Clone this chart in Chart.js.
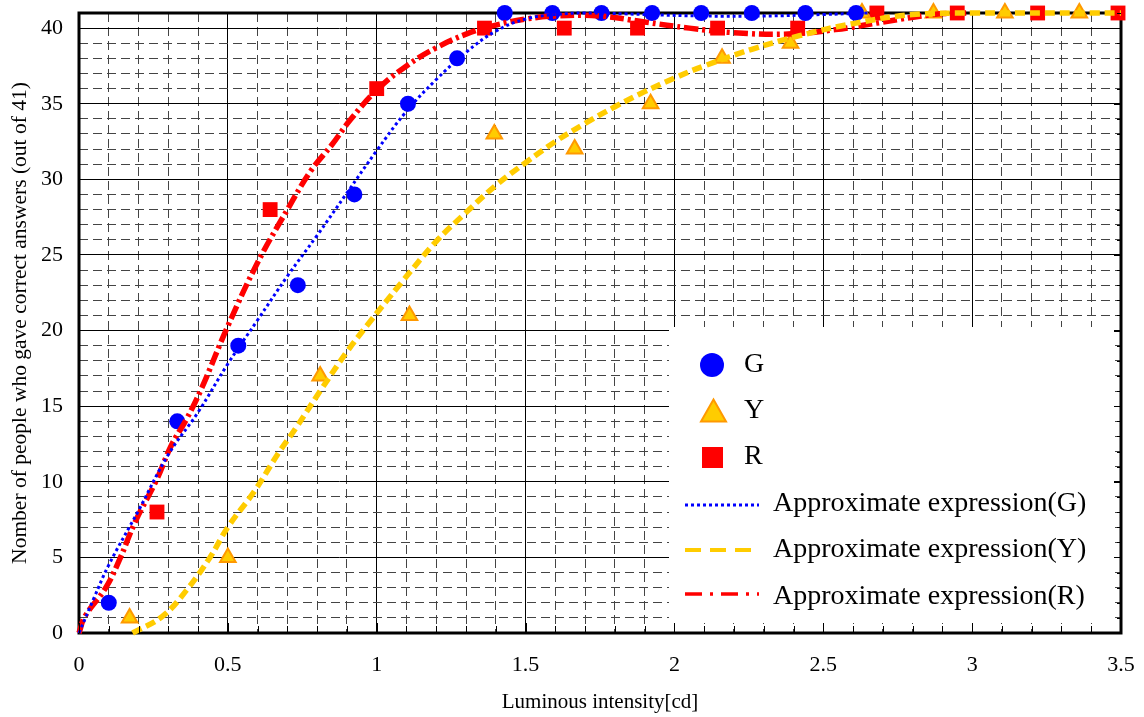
<!DOCTYPE html>
<html><head><meta charset="utf-8">
<script src="https://cdn.jsdelivr.net/npm/chart.js@4.4.0/dist/chart.umd.min.js"></script>
<style>html,body{margin:0;padding:0;background:#fff}#wrap{width:1144px;height:717px}</style>
</head><body><div id="wrap"><canvas id="c" width="1144" height="717"></canvas></div>
<script>
// Measured points
const gX = [0.10,0.33,0.535,0.735,0.925,1.105,1.27,1.43,1.59,1.755,1.925,2.09,2.26,2.44,2.61];
const gY = [2,14,19,23,29,35,38,41,41,41,41,41,41,41,41];
const yX = [0.17,0.50,0.81,1.11,1.395,1.665,1.92,2.16,2.39,2.63,2.87,3.11,3.36];
const yY = [1,5,17,21,33,32,35,38,39,41,41,41,41];
const rX = [0.262,0.642,1.0,1.362,1.63,1.876,2.145,2.414,2.68,2.95,3.22,3.49];
const rY = [8,28,36,40,40,40,40,40,41,41,41,41];
// Approximate expression curves
const fitGX = [0,0.05,0.1,0.2,0.3,0.4,0.5,0.6,0.7,0.8,0.9,1.0,1.1,1.2,1.3,1.4,1.5,1.6,1.7,1.9,2.1,2.3,2.5,2.65];
const fitGY = [0,2.3,4.5,8.1,11.8,14.6,17.8,20.7,23.6,26.3,29.1,31.9,34.5,36.6,38.4,39.8,40.6,40.9,41.0,40.9,40.8,40.8,40.9,41];
const fitYX = [0.18,0.28,0.36,0.44,0.5,0.59,0.67,0.73,0.81,0.9,0.97,1.08,1.2,1.3,1.4,1.5,1.6,1.7,1.8,1.9,2.0,2.1,2.26,2.42,2.6,2.8,3.0,3.5];
const fitYY = [0,1.1,2.8,5.0,7.0,9.4,11.9,13.6,16.0,18.6,20.4,23.1,25.9,27.8,29.6,31.1,32.5,33.7,34.8,35.8,36.7,37.5,38.6,39.5,40.3,40.9,41,41];
const fitRX = [0,0.02,0.09,0.135,0.19,0.26,0.31,0.36,0.41,0.5,0.6,0.7,0.78,0.85,0.91,1.0,1.1,1.2,1.3,1.4,1.5,1.6,1.75,1.9,2.05,2.2,2.37,2.54,2.7,2.87,2.98];
const fitRY = [0,1.1,3.0,4.8,7.4,10.1,12.4,14.1,16.1,20.3,24.5,28.0,30.6,32.3,33.9,35.9,37.5,38.7,39.6,40.2,40.6,40.8,40.8,40.4,40.0,39.7,39.6,39.9,40.4,40.9,41];
// Axis ticks
const xTickValues = [0,0.5,1,1.5,2,2.5,3,3.5];
const xTickLabels = ['0','0.5','1','1.5','2','2.5','3','3.5'];
const yTickValues = [0,5,10,15,20,25,30,35,40];
const yTickLabels = ['0','5','10','15','20','25','30','35','40'];
const xMinorStep = 0.1, yMinorStep = 1;
const xTitle = 'Luminous intensity[cd]';
const yTitle = 'Nomber of people who gave correct answers (out of 41)';
const legendLabels = ['G','Y','R','Approximate expression(G)','Approximate expression(Y)','Approximate expression(R)'];

const FONT = '"Liberation Serif", "Times New Roman", serif';
const pts = (xs, ys) => xs.map((x, i) => ({x, y: ys[i]}));
const isMajor = (v, list) => list.some(t => Math.abs(t - v) < 1e-6);

const decor = {
  id: 'decor',
  beforeDatasetsDraw(chart) {
    const {ctx, chartArea: a} = chart;
    ctx.save();
    ctx.strokeStyle = '#000'; ctx.lineWidth = 3;
    ctx.strokeRect(a.left, a.top, a.right - a.left, a.bottom - a.top);
    ctx.restore();
  },
  afterDatasetsDraw(chart) {
    const {ctx, chartArea: a, scales} = chart;
    ctx.save();
    // legend background
    ctx.fillStyle = '#fff';
    ctx.fillRect(669, 327, 1114 - 669, 623 - 327);
    // inward ticks
    ctx.strokeStyle = '#000'; ctx.lineWidth = 1;
    scales.x.ticks.forEach(t => {
      const px = Math.round(scales.x.getPixelForValue(t.value)) + 0.5;
      const len = isMajor(t.value, xTickValues) ? 10 : 7;
      ctx.beginPath(); ctx.moveTo(px, a.bottom); ctx.lineTo(px, a.bottom - len); ctx.stroke();
    });
    scales.y.ticks.forEach(t => {
      const py = Math.round(scales.y.getPixelForValue(t.value)) + 0.5;
      const len = isMajor(t.value, yTickValues) ? 7 : 4;
      ctx.beginPath(); ctx.moveTo(a.right, py); ctx.lineTo(a.right - len, py); ctx.stroke();
    });
    // legend markers
    ctx.fillStyle = '#0000ff';
    ctx.beginPath(); ctx.arc(712, 365, 12, 0, Math.PI * 2); ctx.fill();
    ctx.fillStyle = '#ffcc00'; ctx.strokeStyle = '#ff9900'; ctx.lineWidth = 2;
    ctx.beginPath(); ctx.moveTo(713.5, 399.5); ctx.lineTo(726, 421.5); ctx.lineTo(701, 421.5); ctx.closePath(); ctx.fill(); ctx.stroke();
    ctx.fillStyle = '#ff0000';
    ctx.fillRect(702, 447, 21, 21);
    // legend lines
    const line = (y, color, w, dash) => {
      ctx.beginPath(); ctx.strokeStyle = color; ctx.lineWidth = w; ctx.setLineDash(dash);
      ctx.moveTo(685, y); ctx.lineTo(759, y); ctx.stroke();
    };
    line(505, '#0000ff', 3, [3, 3]);
    line(550, '#ffcc00', 4, [16, 9]);
    line(594, '#ff0000', 3.5, [17, 8, 3, 8]);
    ctx.setLineDash([]);
    // legend text
    ctx.fillStyle = '#000'; ctx.font = '28px ' + FONT; ctx.textAlign = 'left'; ctx.textBaseline = 'alphabetic';
    ctx.fillText(legendLabels[0], 744, 372);
    ctx.fillText(legendLabels[1], 744, 418);
    ctx.fillText(legendLabels[2], 744, 464);
    ctx.fillText(legendLabels[3], 773, 511);
    ctx.fillText(legendLabels[4], 773, 557);
    ctx.fillText(legendLabels[5], 773, 604);
    ctx.restore();
  }
};

const lineCommon = {showLine: true, pointRadius: 0, pointHoverRadius: 0, tension: 0.4, clip: false, borderCapStyle: 'butt', fill: false};

new Chart(document.getElementById('c'), {
  type: 'scatter',
  data: {
    datasets: [
      Object.assign({label: legendLabels[3], data: pts(fitGX, fitGY), borderColor: '#0000ff', borderWidth: 3, borderDash: [3, 3], order: 0}, lineCommon),
      Object.assign({label: legendLabels[4], data: pts(fitYX, fitYY), borderColor: '#ffcc00', borderWidth: 5.5, borderDash: [10, 5], order: 1}, lineCommon),
      Object.assign({label: legendLabels[5], data: pts(fitRX, fitRY), borderColor: '#ff0000', borderWidth: 5.5, borderDash: [14, 4, 3, 4], order: 2}, lineCommon),
      {label: legendLabels[0], data: pts(gX, gY), pointStyle: 'circle', pointRadius: 8, backgroundColor: '#0000ff', borderColor: '#0000ff', borderWidth: 0, order: 3, clip: false},
      {label: legendLabels[1], data: pts(yX, yY), pointStyle: 'triangle', pointRadius: 9, backgroundColor: '#ffcc00', borderColor: '#ff9900', borderWidth: 2, order: 4, clip: false},
      {label: legendLabels[2], data: pts(rX, rY), pointStyle: 'rect', pointRadius: 10.5, backgroundColor: '#ff0000', borderColor: '#ff0000', borderWidth: 0, order: 5, clip: false}
    ]
  },
  options: {
    responsive: false, animation: false, devicePixelRatio: 1,
    layout: {autoPadding: false, padding: {top: 13, right: 23, left: 0, bottom: 0}},
    plugins: {legend: {display: false}, tooltip: {enabled: false}},
    events: [],
    scales: {
      x: {
        type: 'linear', min: 0, max: 3.5,
        afterBuildTicks: s => { const t = []; for (let i = 0; i <= Math.round(3.5 / xMinorStep); i++) t.push({value: Math.round(i * xMinorStep * 1000) / 1000}); s.ticks = t; },
        afterFit: s => { s.height = 84; s.paddingLeft = 0; s.paddingRight = 0; },
        ticks: {autoSkip: false, maxRotation: 0, padding: 19, color: '#000', font: {family: FONT, size: 22},
          callback: v => { const i = xTickValues.findIndex(t => Math.abs(t - v) < 1e-6); return i >= 0 ? xTickLabels[i] : ''; }},
        grid: {drawTicks: false, lineWidth: 1, color: c => (c.tick && isMajor(c.tick.value, xTickValues)) ? '#000' : '#444'},
        border: {display: false, dash: c => (c.tick && !isMajor(c.tick.value, xTickValues)) ? [9, 5] : []},
        title: {display: true, text: xTitle, color: '#000', font: {family: FONT, size: 21}, padding: {top: 0, bottom: 2}}
      },
      y: {
        type: 'linear', min: 0, max: 41,
        afterBuildTicks: s => { const t = []; for (let i = 0; i <= Math.round(41 / yMinorStep); i++) t.push({value: i * yMinorStep}); s.ticks = t; },
        afterFit: s => { s.width = 79; s.paddingTop = 0; s.paddingBottom = 0; },
        ticks: {autoSkip: false, padding: 16, color: '#000', font: {family: FONT, size: 22},
          callback: v => { const i = yTickValues.findIndex(t => Math.abs(t - v) < 1e-6); return i >= 0 ? yTickLabels[i] : ''; }},
        grid: {drawTicks: false, lineWidth: 1, color: c => (c.tick && isMajor(c.tick.value, yTickValues)) ? '#000' : '#444'},
        border: {display: false, dash: c => (c.tick && !isMajor(c.tick.value, yTickValues)) ? [9, 5] : []},
        title: {display: true, text: yTitle, color: '#000', font: {family: FONT, size: 21.5}, padding: {top: 7, bottom: 0}}
      }
    }
  },
  plugins: [decor]
});
</script></body></html>
